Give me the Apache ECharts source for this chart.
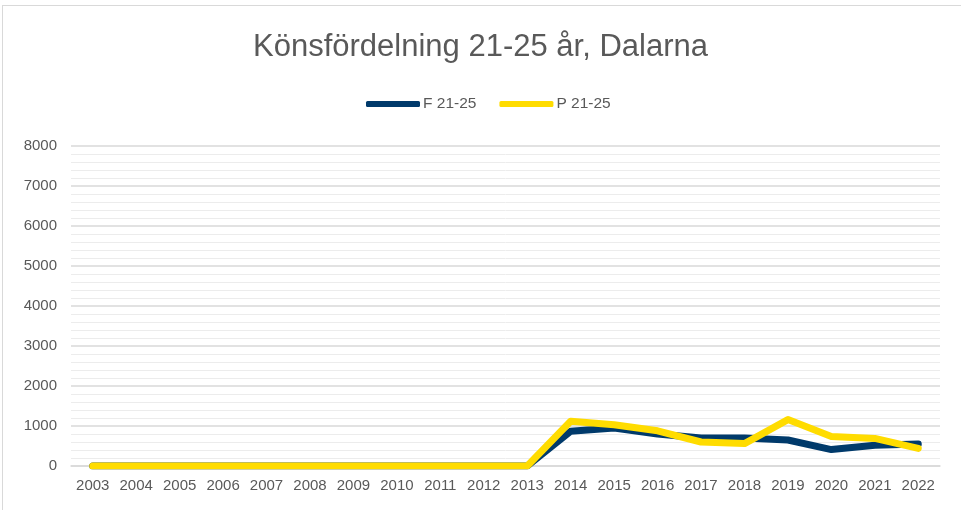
<!DOCTYPE html>
<html>
<head>
<meta charset="utf-8">
<script src="https://cdn.jsdelivr.net/npm/echarts@6/dist/echarts.min.js"></script>
<style>
  html, body { margin: 0; padding: 0; background: #fff; }
  #chart { width: 961px; height: 510px; }
  #frame { position: absolute; left: 2px; top: 5px; width: 970px; height: 520px; border: 1px solid #d9d9d9; box-sizing: border-box; pointer-events: none; }
</style>
</head>
<body>
<div id="chart"></div>
<div id="frame"></div>
<script>
// år
var years = ['2003','2004','2005','2006','2007','2008','2009','2010','2011','2012',
  '2013','2014','2015','2016','2017','2018','2019','2020','2021','2022'];
// F 21-25
var fValues = [0,0,0,0,0,0,0,0,0,0,0,870,950,800,700,700,650,410,520,550];
// P 21-25
var pValues = [0,0,0,0,0,0,0,0,0,0,0,1120,1030,880,600,560,1160,740,690,440];

var myChart = echarts.init(document.getElementById('chart'));

var option = {
  animation: false,
  title: {
    text: 'Könsfördelning 21-25 år, Dalarna',
    left: 'center',
    top: 27,
    textStyle: { fontFamily: 'Liberation Sans, Arial', fontSize: 31, fontWeight: 'normal', color: '#595959' }
  },
  legend: {
    top: 91,
    left: 361,
    itemWidth: 54,
    itemHeight: 6,
    itemGap: 23,
    icon: 'roundRect',
    textStyle: { fontFamily: 'Liberation Sans, Arial', fontSize: 15.5, color: '#595959', padding: [0, 0, 0, -2] },
    data: ['F 21-25', 'P 21-25']
  },
  grid: { left: 71, right: 21, top: 146, bottom: 44 },
  xAxis: {
    type: 'category',
    data: years,
    boundaryGap: true,
    axisLine: { lineStyle: { color: '#d9d9d9', width: 1.5 } },
    axisTick: { show: false },
    axisLabel: { fontFamily: 'Liberation Sans, Arial', fontSize: 15, color: '#595959', margin: 12, interval: 0 }
  },
  yAxis: {
    type: 'value',
    min: 0,
    max: 8000,
    interval: 1000,
    axisLine: { show: false },
    axisTick: { show: false },
    axisLabel: { fontFamily: 'Liberation Sans, Arial', fontSize: 15, color: '#595959', margin: 14,
      formatter: function (v) { return String(v); } },
    splitLine: { lineStyle: { color: '#d9d9d9', width: 1.5 } },
    minorTick: { show: false, splitNumber: 5 },
    minorSplitLine: { show: true, lineStyle: { color: '#ececec', width: 1 } }
  },
  series: [
    {
      name: 'F 21-25',
      type: 'line',
      data: fValues,
      symbol: 'none',
      lineStyle: { width: 7, color: '#003A6B', cap: 'round', join: 'round' },
      itemStyle: { color: '#003A6B' }
    },
    {
      name: 'P 21-25',
      type: 'line',
      data: pValues,
      symbol: 'none',
      lineStyle: { width: 7, color: '#FFDC00', cap: 'round', join: 'round' },
      itemStyle: { color: '#FFDC00' }
    }
  ]
};

myChart.setOption(option);
</script>
</body>
</html>
